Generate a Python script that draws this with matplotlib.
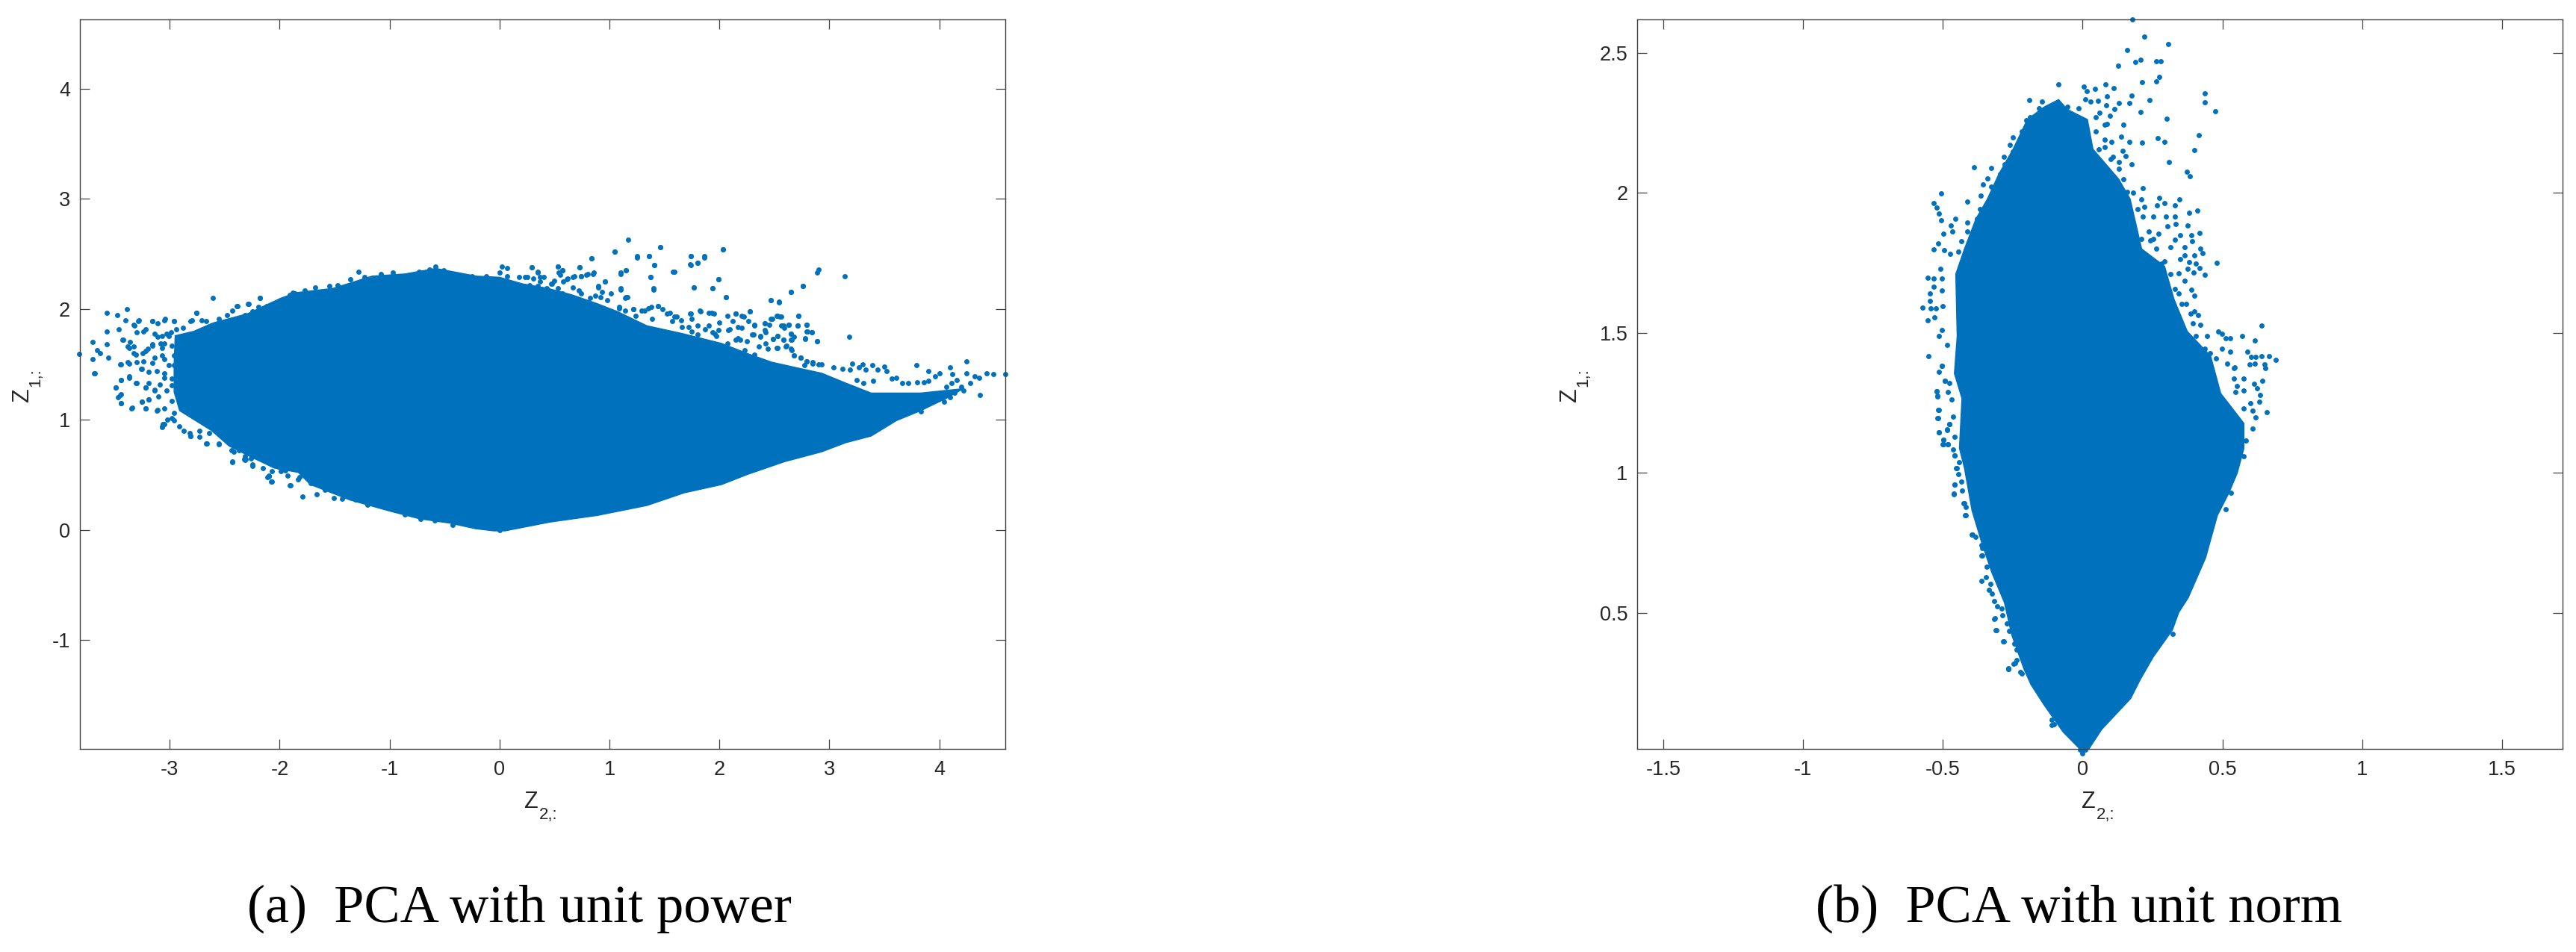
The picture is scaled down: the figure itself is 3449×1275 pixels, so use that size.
import matplotlib
matplotlib.use("Agg")
import matplotlib.pyplot as plt

plt.rcParams['font.family'] = ['Liberation Sans', 'DejaVu Sans']

BLUE = '#0072BD'
DARK = '#404040'
TXT = '#262626'

# ---- panel (a): outline of the saturated point cloud
a_hull_x = [-2.95,-2.78,-2.62,-2.59,-2.29,-1.99,-1.85,-1.51,-1.16,-0.86,-0.58,-0.21,0.0,0.21,0.437,0.66,0.89,1.07,1.34,1.66,2.02,2.25,2.475,2.70,2.93,3.15,3.38,3.83,4.22,
            4.06,3.83,3.61,3.38,3.15,2.93,2.59,2.25,2.02,1.68,1.34,0.89,0.46,0.05,-0.05,-0.22,-0.45,-0.73,-1.0,-1.36,-1.72,-1.83,-2.05,-2.28,-2.46,-2.62,-2.91,-2.96,-2.96]
a_hull_y = [1.76,1.80,1.87,1.88,1.96,2.10,2.15,2.19,2.30,2.32,2.37,2.30,2.29,2.23,2.19,2.13,2.05,1.98,1.85,1.78,1.69,1.60,1.52,1.47,1.42,1.33,1.24,1.24,1.28,
            1.19,1.08,0.99,0.85,0.79,0.707,0.617,0.50,0.41,0.335,0.22,0.13,0.07,-0.01,-0.01,0.01,0.06,0.10,0.17,0.27,0.41,0.52,0.56,0.67,0.76,0.90,1.08,1.25,1.50]

# ---- panel (a): individually visible points
a_x = [-3.825,-3.70,-3.70,-3.68,-3.66,-3.63,-3.57,-3.57,-3.57,-3.56,-3.48,-3.46,-3.39,-3.40,-3.43,-3.44,-3.44,-3.49,-3.45,-3.44,-3.34,-3.31,-3.37,-3.37,-3.33,-3.37,-3.32,-3.29,-3.24,-3.26,-3.245,-3.25,-3.22,-3.19,-3.22,-3.16,-3.11,-3.04,-2.96,-3.16,-3.2,-3.16,-3.07,-3.05,-3.11,-3.14,-3.05,-3.07,-3.05,-3.07,-2.985,-3.11,
       -2.61,-2.755,-2.80,-2.39,-2.29,-2.18,-1.68,-1.28,-0.97,-0.58,0.02,0.07,0.29,0.53,0.57,0.73,0.35,0.84,0.85,1.05,1.17,1.25,1.36,1.46,1.41,1.15,1.10,1.37,0.96,0.90,1.10,1.40,1.59,1.74,1.74,1.80,1.86,2.03,1.99,1.77,1.94,2.06,1.15,0.68,0.61,0.74,0.80,
       1.44,1.52,1.74,1.83,1.93,2.15,2.22,1.65,1.87,1.96,2.09,2.17,1.35,1.22,1.09,
       2.90,2.89,3.14,2.76,2.65,2.47,2.54,2.28,2.72,2.53,2.56,2.48,2.41,2.32,2.45,2.56,2.63,2.71,2.79,2.59,2.79,2.84,2.41,2.65,2.53,3.18,2.37,2.31,2.49,2.58,2.68,2.78,2.89,2.66,2.53,2.60,2.65,2.68,2.74,2.79,2.85,2.93,3.04,3.21,3.30,3.27,3.39,3.50,3.52,3.12,3.19,3.33,3.44,3.79,3.90,4.0,4.10,4.25,4.25,4.12,4.43,4.49,4.60,4.32,4.36,4.28,4.37,4.16,4.11,4.06,3.96,3.90,3.86,3.80,3.72,3.66,3.61,3.57,3.25,3.31,3.40,4.20,4.22,4.14,4.10,4.04,3.92,3.83,
       -2.43,-2.32,-2.07,-2.10,-1.91,-1.79,-1.66,-1.51,-1.43,-2.66,-2.55,-2.81,-2.31,-2.42,-2.25,-2.10,
       -2.76,-2.18,-2.28,-2.08,-2.11,-1.90,-2.43,-3.07,-3.06,-3.02,-3.12,-3.22,-3.19,-3.25,-3.345,-3.44,-3.47,-3.44,-3.49,-3.30,-3.37,-3.44,-3.22,-3.19,-3.14,-3.09,-3.685,-3.45,-3.255,-3.19,-3.12,-3.05,-3.01,-3.05,-3.14,-3.24,-3.31,-3.38,-3.30,-3.22,-3.16,-3.08,-3.01,-2.94,-2.88,-2.96,-3.05,-3.16,-3.28,-3.33,-3.30,-3.22,-3.14,-3.03,-3.36,-3.33,-3.42,-3.38,-2.96,-2.98,-3.07,-2.98,-3.10,-3.05,-2.98,-2.96,-2.87,-2.81,-2.73,-2.67,-2.55,-2.315,-2.25,-2.15,-1.99,-1.93,-1.83,-2.07,0.0,0.1,-0.1]
a_y = [1.595,1.70,1.55,1.42,1.63,1.60,1.97,1.80,1.68,1.56,1.95,1.82,2.00,1.90,1.72,1.50,1.36,1.29,1.22,1.15,1.11,1.33,1.38,1.51,1.60,1.65,1.85,1.89,1.80,1.46,1.60,1.16,1.10,1.18,1.29,1.89,1.87,1.91,1.89,1.68,1.64,1.515,0.94,0.96,1.09,1.27,1.38,1.58,1.69,1.76,1.79,1.75,
       2.10,1.97,1.90,2.03,2.05,2.10,2.20,2.34,2.33,2.39,2.39,2.37,2.38,2.39,2.35,2.38,2.34,2.46,2.32,2.52,2.63,2.47,2.48,2.56,2.40,2.35,2.32,2.29,2.25,2.20,2.18,2.18,2.34,2.40,2.48,2.42,2.47,2.54,2.27,2.20,2.19,2.11,2.11,2.30,2.27,2.30,2.32,
       2.03,1.96,1.96,1.98,1.97,1.96,1.93,1.90,1.82,1.78,1.82,1.74,2.01,2.0,2.01,
       2.36,2.33,2.30,2.21,2.16,2.08,2.06,1.98,1.94,1.94,1.93,1.91,1.87,1.86,1.86,1.85,1.86,1.85,1.86,1.83,1.80,1.79,1.81,1.78,1.76,1.75,1.75,1.77,1.73,1.72,1.75,1.74,1.71,1.72,1.65,1.66,1.64,1.58,1.56,1.53,1.51,1.50,1.47,1.51,1.50,1.47,1.49,1.48,1.44,1.46,1.45,1.45,1.45,1.49,1.44,1.42,1.47,1.53,1.42,1.41,1.42,1.41,1.41,1.39,1.38,1.33,1.22,1.36,1.33,1.30,1.39,1.35,1.34,1.34,1.33,1.33,1.38,1.37,1.36,1.33,1.35,1.30,1.26,1.24,1.20,1.16,1.16,1.07,
       0.616,0.64,0.44,0.485,0.40,0.30,0.32,0.29,0.28,0.78,0.775,0.85,0.64,0.71,0.59,0.49,
       1.97,2.10,2.05,0.44,0.48,0.40,0.62,0.93,0.96,1.0,1.08,1.10,1.18,1.16,1.10,1.15,1.20,1.23,1.29,1.33,1.39,1.36,1.29,1.33,1.26,1.32,1.42,1.50,1.46,1.43,1.44,1.42,1.49,1.55,1.56,1.53,1.59,1.52,1.52,1.62,1.67,1.69,1.76,1.82,1.83,1.89,1.90,1.89,1.90,1.86,1.79,1.82,1.78,1.78,1.70,1.66,1.72,1.66,1.58,1.67,1.65,1.37,1.21,1.10,1.17,1.06,0.90,0.85,0.84,0.78,0.78,0.63,0.58,0.56,0.53,0.49,0.46,0.53,0.0,0.03,0.03]

a_x2 = [.29,.35,.53,.57,.54,.73,.86,.79,.74,.67,.62,.58,.23,.31,.40,.37,.50,.47,.55,.27,.35,.43,.53,.67,.72,.74,.82,.87,.90,.96,.93,1.01,.92,.98,1.10,1.15,1.10,1.14,1.16,1.09,1.14,1.22,1.29,1.32,1.38,1.44,1.48,1.55,1.61,1.57,1.39,1.24,1.73,1.82,1.90,1.95,1.75,2.0,2.07,2.15,2.20,2.28,2.26,2.32,2.20,2.17,2.12,2.08,1.72,1.80,1.90,1.94,1.99,1.97,1.80,2.41,2.47,2.52,2.55,2.58,2.63,2.71,2.79,2.80,2.84,2.78,2.89,2.65,2.53,2.58,2.65,2.49,2.37,2.42,2.42,2.30,2.15,2.19,2.25,2.72,2.47,2.54,2.65,2.76,2.06,1.94,1.77,1.99,1.58,1.40,1.37,1.41,1.25,1.36,1.05,.84,1.46,1.74,1.86,2.03,1.73,1.80,2.68,2.74,2.79,2.85,2.90,2.66,2.52,2.44,2.36,2.32,2.23,2.07,1.66,1.75,1.59,2.61,2.77,
        -2.71,-2.67,-2.81,-2.55,-2.48,-2.43,-2.38,-2.315,-2.25,-2.19,-2.12,-2.05,-1.99,-1.91,-1.86,-2.82,-2.73,-2.64,-2.44,-2.37,-2.315,-2.26,-2.11,-2.01,-2.96,-2.91,-2.98,-2.96,-2.98,-3.03,
        -1.88,-1.77,-1.64,-1.55,-1.47,-1.36,-1.23,-1.08,-.84,-.73,-.64,-.51,-.38,-.25,-.12,.0,.07,.18,.25,.37,.48,.57,.22,
        -.72,-.86,-.97,-1.09,-1.20,-1.31,-1.59,-1.72,-1.82,-1.95,-.43,-.59]
a_y2 = [2.38,2.33,2.39,2.35,2.33,2.38,2.33,2.31,2.30,2.29,2.28,2.25,2.29,2.28,2.29,2.25,2.26,2.23,2.31,2.22,2.21,2.19,2.19,2.20,2.17,2.14,2.10,2.12,2.21,2.25,2.16,2.14,2.11,2.08,2.33,2.35,2.19,2.10,2.11,2.02,1.99,2.00,1.99,1.99,2.02,2.03,2.00,1.97,1.93,1.89,1.91,1.94,1.96,1.99,1.97,1.96,1.91,1.88,1.94,1.96,1.94,1.98,1.89,1.85,1.83,1.84,1.89,1.81,1.84,1.85,1.85,1.79,1.81,1.76,1.77,1.87,1.91,1.94,1.93,1.85,1.86,1.85,1.86,1.80,1.79,1.73,1.71,1.78,1.76,1.72,1.72,1.73,1.76,1.79,1.69,1.77,1.72,1.72,1.71,1.94,2.08,2.07,2.16,2.21,2.11,2.19,2.20,2.27,2.34,2.19,2.29,2.40,2.48,2.48,2.52,2.46,2.56,2.48,2.48,2.54,2.41,2.42,1.58,1.56,1.53,1.52,1.50,1.63,1.65,1.64,1.66,1.59,1.63,1.69,1.84,1.80,1.93,1.67,1.49,
        1.90,1.89,1.89,1.91,1.95,1.99,2.03,1.95,1.98,2.02,2.03,2.02,2.08,2.13,2.14,.88,.90,.88,.72,.72,.67,.65,.63,.57,.99,.94,1.01,1.49,1.31,1.26,
        2.15,2.17,2.16,2.21,2.22,2.27,2.29,2.32,2.30,2.34,2.36,2.35,2.30,2.30,2.30,2.33,2.30,2.29,2.29,2.29,2.23,2.14,2.21,
        .10,.14,.19,.22,.23,.275,.36,.42,.48,.54,.047,.085]

# ---- panel (b): outline of the saturated point cloud
b_hull_x = [0.0,-0.07,-0.139,-0.185,-0.209,-0.254,-0.28,-0.325,-0.361,-0.396,-0.423,-0.441,-0.432,-0.459,-0.449,-0.454,-0.423,-0.382,-0.341,-0.30,-0.249,-0.198,-0.137,-0.086,-0.055,0.017,0.037,0.129,0.170,0.211,0.293,0.327,0.374,0.458,0.494,0.577,0.577,0.553,0.523,0.482,0.44,0.378,0.344,0.321,0.252,0.206,0.172,0.068,0.022]
b_hull_y = [0.004,0.075,0.173,0.244,0.297,0.422,0.537,0.644,0.75,0.866,1.017,1.088,1.266,1.355,1.488,1.71,1.80,1.907,1.978,2.067,2.156,2.262,2.307,2.333,2.298,2.262,2.156,2.049,1.978,1.80,1.738,1.62,1.506,1.417,1.284,1.177,1.088,0.999,0.928,0.848,0.697,0.555,0.502,0.439,0.342,0.262,0.195,0.084,0.014]

# ---- panel (b): individually visible points
b_x = [0.177,0.22,0.306,0.16,0.189,0.206,0.262,0.28,0.127,0.273,0.262,0.213,-0.086,0.004,0.081,0.112,0.045,0.014,0.086,0.175,0.437,0.436,0.24,0.168,0.129,0.084,0.054,0.027,0.01,-0.19,-0.145,0.208,0.474,0.30,0.147,0.097,0.114,0.088,0.061,0.416,0.138,0.168,0.212,0.268,0.293,0.40,0.143,0.155,0.31,0.175,0.373,0.384,0.104,0.078,0.109,0.129,-0.389,-0.326,-0.25,-0.261,-0.203,-0.282,-0.341,-0.357,-0.364,-0.507,-0.534,-0.522,-0.412,-0.514,-0.507,-0.472,-0.456,-0.413,-0.498,-0.466,-0.517,-0.534,-0.433,-0.495,-0.474,-0.51,-0.554,-0.534,-0.503,-0.533,-0.505,-0.546,-0.572,-0.546,-0.544,-0.554,-0.525,-0.50,-0.53,-0.503,-0.515,-0.485,-0.551,-0.503,-0.515,
       0.214,0.275,0.345,0.329,0.293,0.411,0.382,0.267,0.252,0.298,0.329,0.375,0.334,0.303,0.419,0.39,0.349,0.272,0.329,0.391,0.242,0.364,0.313,0.262,0.421,0.40,0.428,0.365,0.479,0.349,0.382,0.405,0.419,0.375,0.398,0.436,0.344,0.364,0.39,0.40,0.37,0.40,0.413,0.421,0.446,0.484,0.498,0.513,0.528,0.571,0.641,0.617,0.588,0.528,0.603,0.62,0.641,0.668,0.692,0.617,0.596,0.651,0.653,0.544,0.518,0.498,
       0.577,0.643,0.613,0.541,0.625,0.553,0.634,0.631,0.601,0.658,0.607,0.577,0.619,0.607,0.583,0.577,0.53,0.512,0.547,0.577,0.541,
       -0.504,-0.494,-0.523,-0.52,-0.516,-0.518,-0.476,-0.485,-0.515,-0.499,-0.499,-0.482,-0.458,-0.451,-0.457,-0.46,-0.425,-0.419,-0.395,-0.359,-0.359,
       -0.311,-0.316,-0.284,-0.265,-0.242,-0.219,-0.104,-0.111,0.321,-0.266,-0.11,0.0,0.01,-0.01]
b_y = [2.62,2.557,2.532,2.511,2.468,2.476,2.471,2.471,2.453,2.413,2.398,2.394,2.387,2.38,2.387,2.373,2.371,2.363,2.344,2.346,2.356,2.324,2.331,2.32,2.32,2.313,2.328,2.326,2.333,2.33,2.326,2.288,2.292,2.265,2.243,2.276,2.298,2.247,2.287,2.206,2.202,2.181,2.18,2.195,2.181,2.153,2.151,2.131,2.109,2.102,2.076,2.06,2.182,2.164,2.129,2.085,2.092,2.089,2.197,2.172,2.26,2.129,2.051,2.029,1.989,1.998,1.964,1.947,1.968,1.926,1.902,1.884,1.907,1.893,1.853,1.862,1.82,1.798,1.827,1.795,1.782,1.729,1.698,1.693,1.693,1.665,1.652,1.64,1.59,1.613,1.587,1.544,1.587,1.596,1.556,1.511,1.489,1.458,1.416,1.382,1.362,
       2.018,1.982,1.977,1.956,1.964,1.938,1.929,1.956,1.916,1.916,1.916,1.884,1.889,1.88,1.858,1.849,1.849,1.853,1.834,1.828,1.831,1.807,1.807,1.80,1.80,1.776,1.784,1.778,1.75,1.764,1.754,1.747,1.732,1.729,1.716,1.708,1.713,1.687,1.653,1.634,1.604,1.578,1.563,1.529,1.489,1.504,1.498,1.48,1.48,1.49,1.527,1.473,1.433,1.434,1.413,1.413,1.416,1.416,1.403,1.391,1.387,1.387,1.373,1.378,1.391,1.444,
       1.337,1.33,1.319,1.373,1.302,1.31,1.277,1.253,1.248,1.217,1.222,1.23,1.199,1.159,1.115,1.06,0.928,0.87,1.288,1.293,1.337,
       1.382,1.33,1.291,1.275,1.226,1.195,1.175,1.155,1.144,1.119,1.102,1.102,1.062,1.017,0.959,0.926,0.893,0.848,0.78,0.706,0.733,
       0.439,0.479,0.399,0.302,0.322,0.284,0.102,0.119,0.426,0.30,0.10,0.0,0.012,0.012]

b_x2 = [-.494,-.477,-.523,-.521,-.481,-.468,-.514,-.519,-.463,-.477,-.485,-.515,-.499,-.501,-.481,-.459,-.463,-.457,-.441,-.452,-.445,-.457,-.46,-.435,-.432,-.423,-.419,-.421,-.396,-.383,-.361,-.362,-.343,-.346,-.363,-.329,-.336,-.325,-.316,-.307,-.289,-.287,-.314,-.309,-.283,-.272,-.263,-.245,-.236,-.236,-.247,-.265,-.224,
        .18,.211,.196,.221,.216,.237,.211,.252,.283,.293,.313,.329,.344,.354,.385,.395,.405,.436,.457,.477,
        .047,.078,.047,.078,.058,.099,.129,.145,.16,-.055,-.014,-.157,-.188,-.219,-.229,-.249,-.28,-.295,-.326,-.331,-.367,-.377,-.413,-.444]
b_y2 = [1.33,1.32,1.291,1.273,1.288,1.262,1.226,1.195,1.202,1.173,1.154,1.144,1.119,1.103,1.102,1.128,1.084,1.062,1.039,1.017,.995,.958,.925,.968,.937,.893,.879,.848,.779,.773,.742,.706,.666,.629,.614,.604,.583,.568,.542,.524,.515,.493,.481,.438,.399,.462,.435,.39,.368,.333,.319,.301,.29,
        2.0,1.978,1.942,1.951,1.916,1.862,1.835,1.835,1.747,1.755,1.711,1.658,1.64,1.604,1.569,1.533,1.489,1.444,1.427,1.409,
        2.271,2.244,2.218,2.191,2.156,2.12,2.111,2.049,2.004,2.307,2.302,2.302,2.271,2.218,2.182,2.147,2.102,2.067,2.022,1.978,1.942,1.907,1.862,1.791]

a_xticks = [-3,-2,-1,0,1,2,3,4]
a_yticks = [-1,0,1,2,3,4]
b_xticks = [-1.5,-1,-0.5,0,0.5,1,1.5]
b_yticks = [0.5,1,1.5,2,2.5]
a_xlabels = ['-3','-2','-1','0','1','2','3','4']
a_ylabels = ['-1','0','1','2','3','4']
b_xlabels = ['-1.5','-1','-0.5','0','0.5','1','1.5']
b_ylabels = ['0.5','1','1.5','2','2.5']
a_xlim = (-3.82, 4.60)
a_ylim = (-1.987, 4.63)
b_xlim = (-1.594, 1.717)
b_ylim = (0.0147, 2.62)
captions = ['(a)  PCA with unit power', '(b)  PCA with unit norm']

W, H = 3449, 1275
fig = plt.figure(figsize=(W/100, H/100), dpi=100, facecolor='white')

def panel(box, hx, hy, px, py, xt, xl, yt, yl, xlim, ylim):
    l, r, t, b = box
    ax = fig.add_axes([l/W, 1-b/H, (r-l)/W, (b-t)/H])
    ax.fill(hx, hy, color=BLUE, lw=1, clip_on=False, zorder=2)
    ax.scatter(px, py, s=25, color=BLUE, linewidths=0, clip_on=False, zorder=3)
    ax.set_xlim(*xlim); ax.set_ylim(*ylim)
    ax.set_xticks(xt, xl); ax.set_yticks(yt, yl)
    ax.tick_params(axis='both', direction='in', top=True, right=True, length=9.4,
                   width=0.9, color=DARK, labelsize=19.5, labelcolor=TXT)
    ax.tick_params(axis='x', pad=11)
    ax.tick_params(axis='y', pad=9)
    for s in ax.spines.values():
        s.set_color(DARK); s.set_linewidth(1.0); s.set_zorder(4)
    return ax

panel((106.5,1346,25.7,1003), a_hull_x, a_hull_y, a_x+a_x2, a_y+a_y2, a_xticks, a_xlabels, a_yticks, a_ylabels, a_xlim, a_ylim)
panel((2192,3431,25.7,1003), b_hull_x, b_hull_y, b_x+b_x2, b_y+b_y2, b_xticks, b_xlabels, b_yticks, b_ylabels, b_xlim, b_ylim)

zkw = dict(fontsize=22, color=TXT, ha='left', va='baseline')
skw = dict(fontsize=16, color=TXT, ha='left', va='baseline')
for zx, sx in ((702, 722), (2787, 2807)):
    fig.text(zx/W, 1-1082/H, 'Z', **zkw)
    fig.text(sx/W, 1-1097/H, '2,:', **skw)
rkw = dict(rotation=90, rotation_mode='anchor')
for bx, sbx in ((38, 53), (2110, 2125)):
    fig.text(bx/W, 1-538/H, 'Z', **zkw, **rkw)
    fig.text(sbx/W, 1-518/H, '1,:', **skw, **rkw)

cap = dict(fontsize=52, color='black', ha='left', va='baseline', family=['Liberation Serif','DejaVu Serif'])
fig.text(331/W, 1-1235/H, captions[0], **cap)
fig.text(2431/W, 1-1235/H, captions[1], **cap)

fig.savefig('out.png', dpi=100, facecolor='white')
